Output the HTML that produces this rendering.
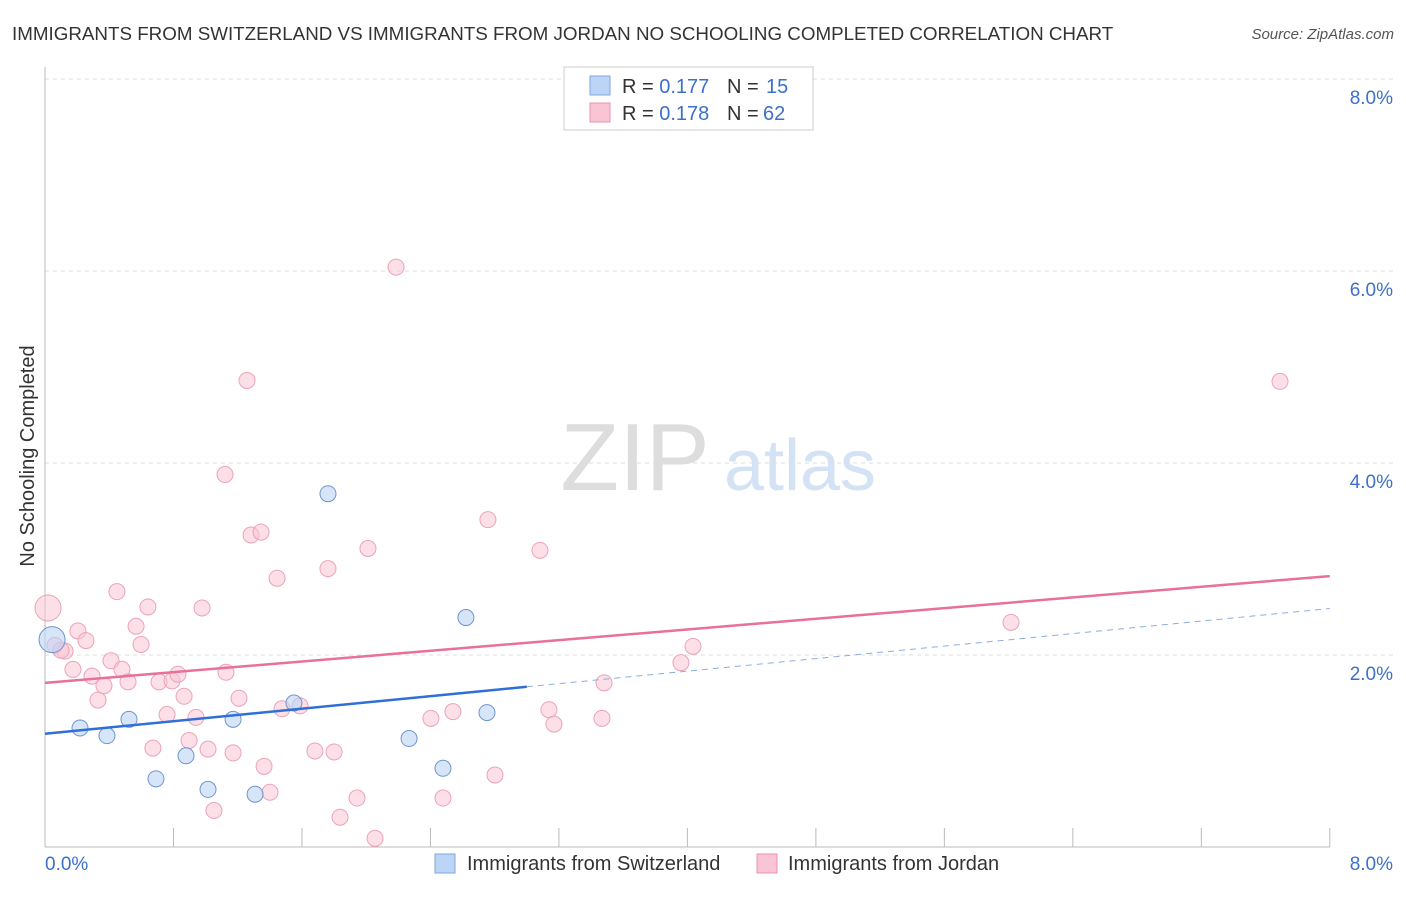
<!DOCTYPE html>
<html><head><meta charset="utf-8"><style>
body{margin:0;background:#fff;font-family:"Liberation Sans",sans-serif}
svg text{font-family:"Liberation Sans",sans-serif}
</style></head><body>
<svg id="c" width="1406" height="892">
<text x="12" y="40" font-size="18.8" fill="#333">IMMIGRANTS FROM SWITZERLAND VS IMMIGRANTS FROM JORDAN NO SCHOOLING COMPLETED CORRELATION CHART</text>
<text x="1394" y="39" font-size="15" fill="#555" font-style="italic" text-anchor="end">Source: ZipAtlas.com</text>
<text x="34" y="456" font-size="20" fill="#333" text-anchor="middle" transform="rotate(-90 34 456)">No Schooling Completed</text>
<g><text x="635" y="490" font-size="96" fill="#ddd" font-family="Liberation Serif" text-anchor="middle">ZIP</text><text x="800" y="490" font-size="72" fill="#d4e2f5" text-anchor="middle">atlas</text></g>
<g id="grid"></g><g id="axes"></g><g id="marks"></g>
<g>
<rect x="564" y="67" width="249" height="63" fill="#fff" stroke="#ccc"/>
<rect x="590" y="76" width="20" height="19" fill="#bcd4f5" stroke="#7fa6dd"/>
<rect x="590" y="103" width="20" height="19" fill="#f9c4d4" stroke="#e995b0"/>
<text x="622" y="93" font-size="20" fill="#333">R = <tspan fill="#3d6fcc">0.177</tspan></text>
<text x="727" y="93" font-size="20" fill="#333">N =</text>
<text x="766" y="93" font-size="20" fill="#3d6fcc">15</text>
<text x="622" y="120" font-size="20" fill="#333">R = <tspan fill="#3d6fcc">0.178</tspan></text>
<text x="727" y="120" font-size="20" fill="#333">N =</text>
<text x="763" y="120" font-size="20" fill="#3d6fcc">62</text>
</g>
<g>
<rect x="435" y="854" width="20" height="19" fill="#bcd4f5" stroke="#7fa6dd"/>
<text x="467" y="870" font-size="20" fill="#333">Immigrants from Switzerland</text>
<rect x="757" y="854" width="20" height="19" fill="#f9c4d4" stroke="#e995b0"/>
<text x="788" y="870" font-size="20" fill="#333">Immigrants from Jordan</text>
</g>
</svg>
<script>
const yTicks=[2,4,6,8];
const yTickLabels=["2.0%","4.0%","6.0%","8.0%"];
const blueX=[0.044,0.218,0.386,0.523,0.691,0.878,1.015,1.171,1.308,1.550,1.762,2.267,2.478,2.621,2.752];
const blueY=[2.16,1.24,1.16,1.33,0.71,0.95,0.60,1.33,0.55,1.50,3.68,1.13,0.82,2.39,1.40];
const pinkX=[0.019,0.062,0.125,0.174,0.205,0.255,0.293,0.330,0.367,0.411,0.448,0.479,0.517,0.567,0.598,0.641,0.672,0.710,0.760,0.791,0.828,0.866,0.897,0.940,0.978,1.015,1.052,1.121,1.127,1.171,1.208,1.258,1.283,1.345,1.364,1.401,1.445,1.476,1.588,1.681,1.762,1.800,1.837,1.943,2.011,2.055,2.186,2.403,2.478,2.540,2.758,2.802,3.082,3.138,3.169,3.468,3.481,3.960,4.035,6.015,7.690,0.100];
const pinkY=[2.49,2.10,2.04,1.85,2.25,2.15,1.78,1.53,1.68,1.94,2.66,1.85,1.72,2.30,2.11,2.50,1.03,1.72,1.38,1.73,1.80,1.57,1.11,1.35,2.49,1.02,0.38,3.88,1.82,0.98,1.55,4.86,3.25,3.28,0.84,0.57,2.80,1.44,1.47,1.00,2.90,0.99,0.31,0.51,3.11,0.09,6.04,1.34,0.51,1.41,3.41,0.75,3.09,1.43,1.28,1.34,1.71,1.92,2.09,2.34,4.85,2.05];
const blueTrend=[1.18,0.163]; // intercept, slope
const pinkTrend=[1.71,0.139];
const blueSolidEnd=3.0;
const X=v=>45+v*160.6, Y=v=>847-v*96;
const NS="http://www.w3.org/2000/svg";
function mk(t,a,p){const e=document.createElementNS(NS,t);for(const k in a)e.setAttribute(k,a[k]);p.appendChild(e);return e;}
const grid=document.getElementById('grid'),axes=document.getElementById('axes'),marks=document.getElementById('marks');
yTicks.forEach((t,i)=>{
 const l=mk('line',{x1:45,x2:1394,y1:Y(t),y2:Y(t),stroke:'#ddd','stroke-dasharray':'4,4'},grid);
 
 
 const tx=mk('text',{x:1393,y:Y(t)+25,'font-size':19,fill:'#3d6fcc','text-anchor':'end'},axes);
 tx.textContent=yTickLabels[i];
 
 
});
mk('line',{x1:45,x2:45,y1:67,y2:847,stroke:'#bbb'},axes);
mk('line',{x1:45,x2:1330,y1:847,y2:847,stroke:'#bbb'},axes);
for(let i=0;i<=10;i++){const t=mk('line',{x1:X(i*0.8),x2:X(i*0.8),y1:828,y2:847,stroke:'#bbb'},axes);
 
 }
const x0=mk('text',{x:45,y:870,'font-size':19,fill:'#3d6fcc'},axes);x0.textContent='0.0%';


const x1=mk('text',{x:1393,y:870,'font-size':19,fill:'#3d6fcc','text-anchor':'end'},axes);x1.textContent='8.0%';


pinkX.forEach((v,i)=>{const c=mk('circle',{cx:X(v),cy:Y(pinkY[i]),r:i==0?13:8,fill:'rgba(249,196,212,0.55)',stroke:'#eba3ba','stroke-width':1},marks);
 
 });
blueX.forEach((v,i)=>{const c=mk('circle',{cx:X(v),cy:Y(blueY[i]),r:i==0?13:8,fill:'rgba(188,212,245,0.6)',stroke:'#6f95d0','stroke-width':1},marks);
 
 });
const bt=v=>blueTrend[0]+blueTrend[1]*v, pt=v=>pinkTrend[0]+pinkTrend[1]*v;
let l=mk('line',{x1:X(0),y1:Y(pt(0)),x2:X(8),y2:Y(pt(8)),stroke:'#e8709a','stroke-width':2.5},marks);


l=mk('line',{x1:X(0),y1:Y(bt(0)),x2:X(blueSolidEnd),y2:Y(bt(blueSolidEnd)),stroke:'#2f6fd6','stroke-width':2.5},marks);


l=mk('line',{x1:X(blueSolidEnd),y1:Y(bt(blueSolidEnd)),x2:X(8),y2:Y(bt(8)),stroke:'#8aaee0','stroke-width':1,'stroke-dasharray':'6,5'},marks);


</script>
</body></html>
